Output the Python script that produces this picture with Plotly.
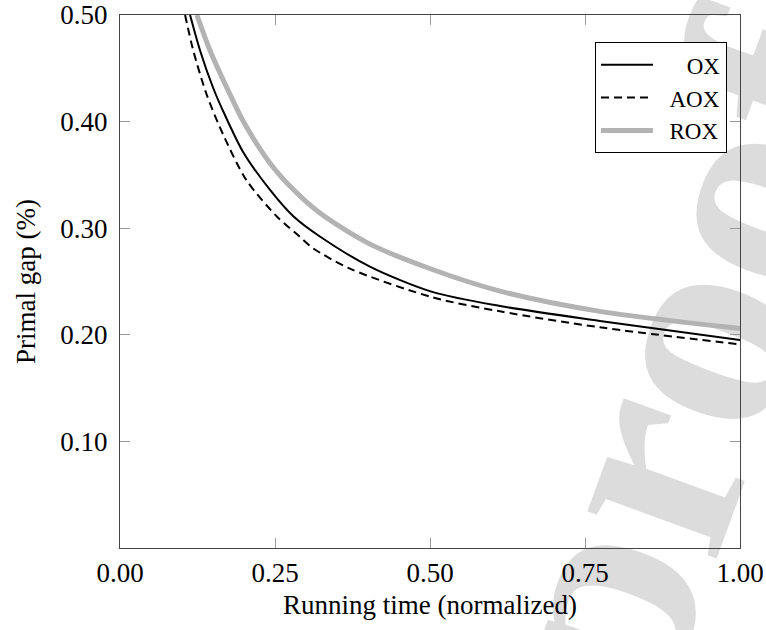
import plotly.graph_objects as go

# Data
ox_x = [0.113, 0.129, 0.150, 0.167, 0.199, 0.242, 0.280, 0.323, 0.403, 0.505, 0.613, 0.774, 1.0]
ox_y = [0.500, 0.467, 0.432, 0.409, 0.371, 0.336, 0.311, 0.292, 0.264, 0.240, 0.227, 0.213, 0.195]

aox_x = [0.105, 0.118, 0.140, 0.167, 0.204, 0.253, 0.290, 0.312, 0.371, 0.505, 0.613, 0.774, 1.0]
aox_y = [0.500, 0.467, 0.425, 0.387, 0.345, 0.311, 0.292, 0.281, 0.262, 0.235, 0.222, 0.207, 0.191]

rox_x = [0.124, 0.145, 0.177, 0.199, 0.242, 0.280, 0.323, 0.400, 0.505, 0.613, 0.774, 1.0]
rox_y = [0.500, 0.467, 0.426, 0.400, 0.361, 0.336, 0.314, 0.286, 0.261, 0.241, 0.222, 0.206]

x_ticks = [0.0, 0.25, 0.5, 0.75, 1.0]
y_ticks = [0.1, 0.2, 0.3, 0.4, 0.5]

FONT = "Liberation Serif"
NB = "\u00a0"

fig = go.Figure()
fig.add_trace(go.Scatter(x=ox_x, y=ox_y, mode="lines", name=NB * 5 + "OX",
                         line=dict(color="black", width=2, shape="spline", smoothing=0.8)))
fig.add_trace(go.Scatter(x=aox_x, y=aox_y, mode="lines", name=NB * 2 + "AOX",
                         line=dict(color="black", width=2, dash="8px,5px", shape="spline", smoothing=0.8)))
fig.add_trace(go.Scatter(x=rox_x, y=rox_y, mode="lines", name=NB * 2 + "ROX",
                         line=dict(color="#b3b3b3", width=5, shape="spline", smoothing=0.8)))

# Watermark (below the curves)
wx, wy = 0.855, 0.37
fig.add_shape(type="rect", xref="paper", yref="paper",
              x0=wx - 0.002, x1=wx + 0.002, y0=wy - 0.002, y1=wy + 0.002, layer="below",
              line=dict(width=0), fillcolor="rgba(0,0,0,0)",
              label=dict(text="<b>proof</b>", textangle=-70, textposition="middle center",
                         font=dict(family=FONT, size=300, color="#dcdcdc")))

axis_common = dict(showline=True, linecolor="#444444", linewidth=1.3, mirror="ticks",
                   ticks="inside", ticklen=10, tickcolor="#999999", tickwidth=1,
                   showgrid=False, zeroline=False, automargin=False,
                   ticklabeloverflow="allow",
                   tickfont=dict(family=FONT, size=27, color="black"),
                   tickformat=".2f")

fig.update_xaxes(range=[0, 1], tickvals=x_ticks,
                 title=dict(text="Running time (normalized)" + NB * 4, standoff=8,
                            font=dict(family=FONT, size=27, color="black")),
                 **axis_common)
fig.update_yaxes(range=[0, 0.5], tickvals=y_ticks, ticklabelstandoff=6,
                 title=dict(text="Primal gap (%)", standoff=16,
                            font=dict(family=FONT, size=27, color="black")),
                 **axis_common)

fig.update_layout(
    width=766, height=630,
    margin=dict(l=120, r=26, t=15, b=82),
    plot_bgcolor="rgba(0,0,0,0)", paper_bgcolor="white",
    font=dict(family=FONT, color="black"),
    legend=dict(x=0.979, y=0.949, xanchor="right", yanchor="top",
                bgcolor="white", bordercolor="black", borderwidth=1,
                font=dict(family=FONT, size=23, color="black"),
                tracegroupgap=0, itemwidth=52),
    showlegend=True,
)

fig.write_html("out.html", config={"displayModeBar": False},
               post_script="document.body.style.margin='0';")
